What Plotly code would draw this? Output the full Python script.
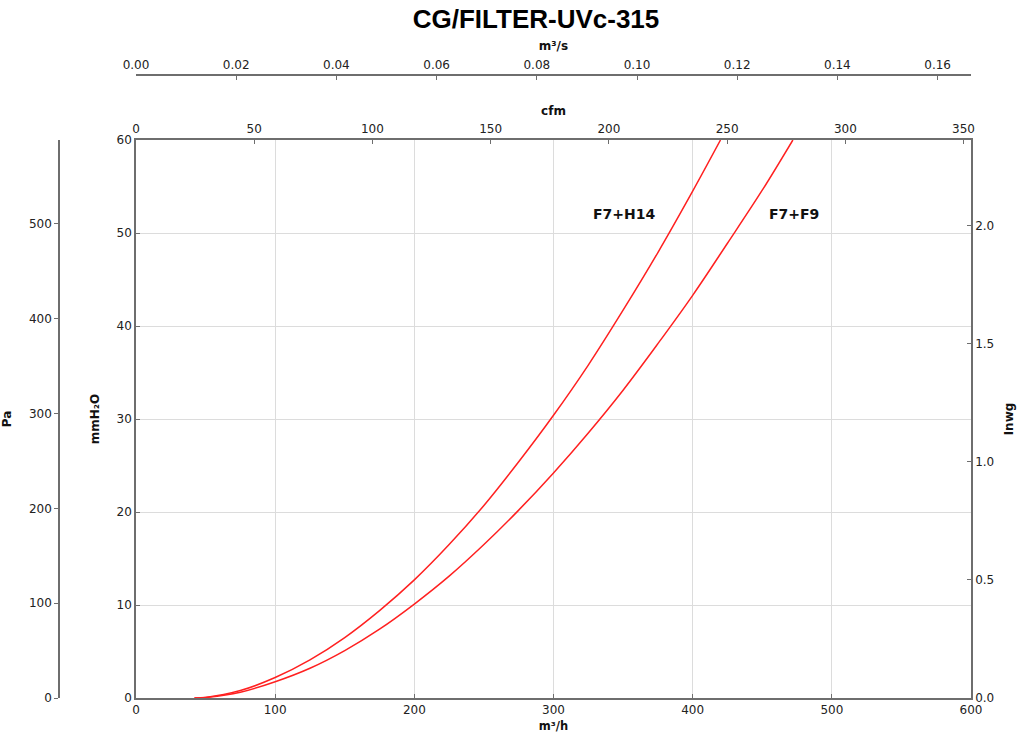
import plotly.graph_objects as go

# Data (m3/h vs mmH2O)
flow_h14 = [42, 50, 75, 100, 125, 150, 175, 200, 225, 250, 275, 300, 325, 350, 375, 400, 420]
dp_h14 = [0, 0.06, 0.8, 2.2, 4.1, 6.5, 9.4, 12.7, 16.5, 20.7, 25.4, 30.4, 35.8, 41.7, 47.9, 54.5, 60]
flow_f9 = [42, 50, 75, 100, 125, 150, 175, 200, 225, 250, 275, 300, 325, 350, 375, 400, 425, 450, 472]
dp_f9 = [0, 0.05, 0.62, 1.75, 3.2, 5.1, 7.4, 10.1, 13.1, 16.5, 20.2, 24.2, 28.5, 33.1, 38.1, 43.3, 48.9, 54.6, 60]
labels = ["F7+H14", "F7+F9"]
label_x = [351, 473]
label_y = [52, 52]

W, H = 1019, 737
L, R, T, B = 136, 971, 140, 698
MMH2O_MAX = 60
M3H_MAX = 600

def px_x(p):
    return p / W

def px_y(p):
    return (H - p) / H

xdom = [px_x(L), px_x(R)]
ydom = [px_y(B), px_y(T)]

tickfont = dict(family="DejaVu Sans", size=12, color="#222")
titlefont = dict(family="DejaVu Sans", size=12, color="#111")
LINE = "#6e6e6e"
GRID = "#dcdcdc"

fig = go.Figure()
for fx, fy in [(flow_h14, dp_h14), (flow_f9, dp_f9)]:
    fig.add_trace(go.Scatter(x=fx, y=fy, mode="lines",
                             line=dict(color="#ff2020", width=1.5, shape="spline", smoothing=1.0),
                             showlegend=False, hoverinfo="skip", xaxis="x", yaxis="y"))

# dummy traces to activate secondary axes
for xa, ya in [("x2", "y"), ("x3", "y"), ("x", "y2"), ("x", "y3")]:
    fig.add_trace(go.Scatter(x=[None], y=[None], mode="lines", showlegend=False, hoverinfo="skip",
                             xaxis=xa, yaxis=ya))

for t, lx, ly in zip(labels, label_x, label_y):
    fig.add_annotation(x=lx, y=ly, xref="x", yref="y", text="<b>%s</b>" % t, showarrow=False,
                       font=dict(family="DejaVu Sans", size=14, color="#111"))

common = dict(showline=True, linecolor=LINE, linewidth=1.5, ticks="inside", ticklen=4, tickcolor=LINE,
              tickfont=tickfont, automargin=False, zeroline=False, fixedrange=True)

fig.update_layout(
    template="none",
    width=W, height=H,
    margin=dict(l=0, r=0, t=0, b=0),
    paper_bgcolor="white", plot_bgcolor="white",
    title=dict(text="<b>CG/FILTER-UVc-315</b>", x=px_x(536), xanchor="center", y=px_y(19), yanchor="middle",
               font=dict(family="Liberation Sans", size=26, color="#000")),
    xaxis=dict(domain=xdom, range=[0, M3H_MAX], dtick=100, showgrid=True, gridcolor=GRID, gridwidth=1,
               title=dict(text="<b>m³/h</b>", font=dict(family="DejaVu Sans", size=11.5, color="#111"),
                          standoff=6), anchor="y", **common),
    yaxis=dict(domain=ydom, range=[0, MMH2O_MAX], dtick=10, showgrid=True, gridcolor=GRID, gridwidth=1,
               title=dict(text="<b>mmH₂O</b>", font=titlefont, standoff=14), anchor="x", **common),
    yaxis2=dict(overlaying="y", side="right", anchor="x", range=[0, MMH2O_MAX / 25.4], dtick=0.5,
                tickformat=".1f", showgrid=False,
                title=dict(text="<b>Inwg</b>", font=titlefont, standoff=11), **common),
    yaxis3=dict(overlaying="y", side="left", anchor="free", position=px_x(59),
                range=[0, MMH2O_MAX * 9.80665], dtick=100, showgrid=False,
                title=dict(text="<b>Pa</b>", font=titlefont, standoff=16),
                **{**common, "ticks": "outside"}),
    xaxis2=dict(overlaying="x", side="top", anchor="y", range=[0, M3H_MAX / 1.699], dtick=50, showgrid=False,
                title=dict(text="<b>cfm</b>", font=titlefont, standoff=4), **common),
    xaxis3=dict(overlaying="x", side="top", anchor="free", position=px_y(75), range=[0, M3H_MAX / 3600],
                dtick=0.02, tickformat=".2f", showgrid=False,
                title=dict(text="<b>m³/s</b>", font=titlefont, standoff=4), **common),
)

fig.write_html("out.html", config={"displayModeBar": False},
               post_script="document.body.style.margin='0px';document.body.style.overflow='hidden';")
